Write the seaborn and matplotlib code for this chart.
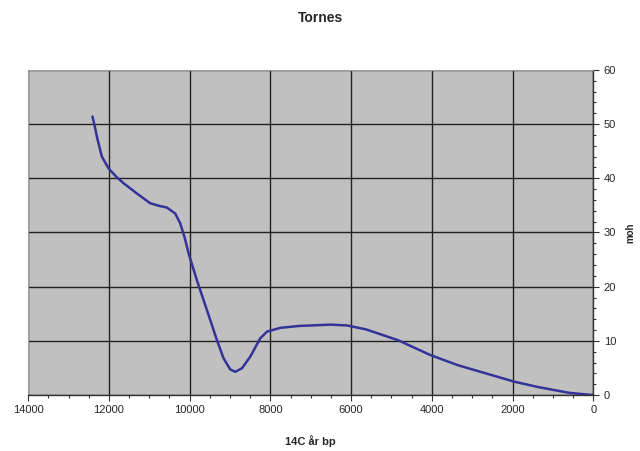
import matplotlib
matplotlib.use("Agg")
import matplotlib.pyplot as plt
import seaborn as sns
import pandas as pd
from matplotlib.ticker import MultipleLocator

# Tornes shoreline curve
years = [12407, 12350, 12298, 12175, 12010, 11820, 11638, 11307, 10977, 10750,
         10563, 10357, 10234, 10120, 10028, 9820, 9572, 9324, 9161, 8995,
         8871, 8705, 8499, 8251, 8085, 7756, 7300, 6510, 6100, 5620, 4830,
         4040, 3350, 2660, 1970, 1380, 590, 0]
heights = [51.4, 49.6, 47.7, 44.0, 41.85, 40.3, 39.1, 37.2, 35.4, 34.9,
           34.6, 33.5, 31.7, 29.0, 26.2, 21.2, 15.7, 10.15, 6.8, 4.74,
           4.3, 4.93, 7.07, 10.47, 11.7, 12.4, 12.75, 13.0, 12.85, 12.1, 10.1,
           7.4, 5.5, 4.0, 2.5, 1.5, 0.4, 0.0]

df = pd.DataFrame({"year": years, "moh": heights})

sns.set_theme(style="white")
plt.rcParams["font.family"] = ["Liberation Sans", "DejaVu Sans"]

fig = plt.figure(figsize=(6.4, 4.51), dpi=100)
ax = fig.add_axes([0.044, 0.124, 0.883, 0.721])
ax.set_facecolor("#c0c0c0")

sns.lineplot(data=df, x="year", y="moh", sort=False, color="#333399",
             linewidth=1.8, ax=ax)
ax.lines[0].set_solid_joinstyle("round")
ax.lines[0].set_solid_capstyle("round")

ax.set_xlim(14000, 0)
ax.set_ylim(0, 60)
ax.xaxis.set_major_locator(MultipleLocator(2000))
ax.xaxis.set_minor_locator(MultipleLocator(500))
ax.yaxis.set_major_locator(MultipleLocator(10))
ax.yaxis.set_minor_locator(MultipleLocator(2))
ax.yaxis.tick_right()
ax.yaxis.set_label_position("right")

ax.grid(True, which="major", color="#222222", linewidth=1.0)
ax.set_axisbelow(True)

ax.tick_params(axis="both", which="major", labelsize=8, length=4,
               direction="out", color="#333333", width=0.8)
ax.tick_params(axis="both", which="minor", length=2.5, direction="out",
               color="#333333", width=0.8)
ax.tick_params(axis="x", bottom=True, which="both")
ax.tick_params(axis="y", right=True, left=False, which="both")

for side in ["top", "left"]:
    ax.spines[side].set_color("#a0a0a0")
    ax.spines[side].set_linewidth(0.8)
for side in ["bottom", "right"]:
    ax.spines[side].set_color("#333333")
    ax.spines[side].set_linewidth(1.0)

ax.set_xlabel("14C år bp", fontsize=8, fontweight="bold", labelpad=14)
ax.set_ylabel("moh", fontsize=7, fontweight="bold", labelpad=7)
fig.suptitle("Tornes", fontsize=10, fontweight="bold", y=0.975)

fig.savefig("out.png", dpi=100, facecolor="white")
